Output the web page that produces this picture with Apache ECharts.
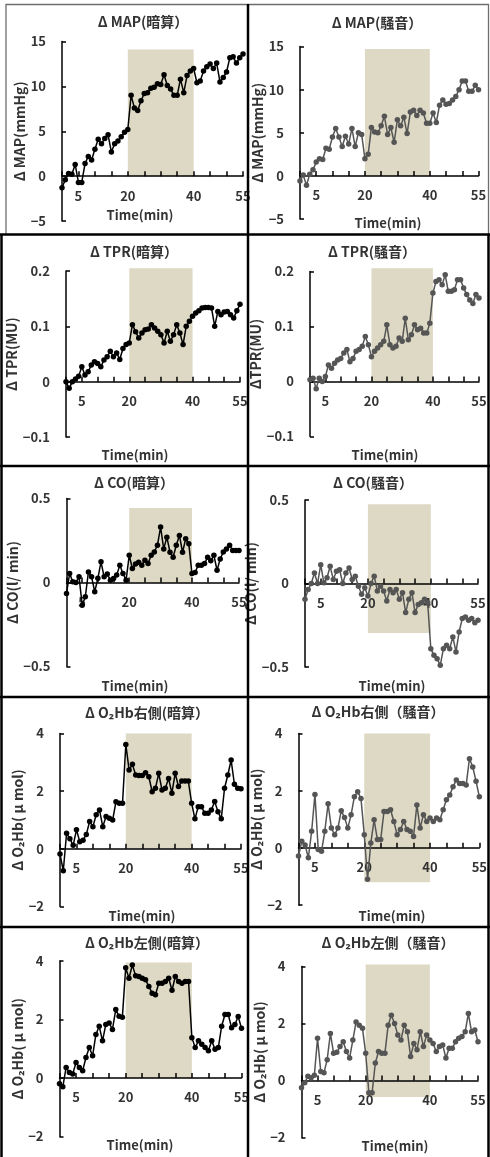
<!DOCTYPE html>
<html>
<head>
<meta charset="utf-8">
<script src="https://cdn.jsdelivr.net/npm/echarts@6/dist/echarts.min.js"></script>
<style>
  html, body { margin: 0; padding: 0; background: #fff; }
  #chart { width: 490px; height: 1157px; }
</style>
</head>
<body>
<div id="chart"></div>
<script>
// Time axis (min) and its labelled ticks
const minutes = [0,1,2,3,4,5,6,7,8,9,10,11,12,13,14,15,16,17,18,19,20,21,22,23,24,25,26,27,
  28,29,30,31,32,33,34,35,36,37,38,39,40,41,42,43,44,45,46,47,48,49,50,51,52,53,54,55];
const timeLabels = [5, 20, 40, 55];
const taskPeriod = [20, 40];

// Y tick values per measure
const mapTicks = [-5, 0, 5, 10, 15];
const tprTicks = [-0.1, 0, 0.1, 0.2];
const coTicks = [-0.5, 0, 0.5];
const o2hbTicks = [-2, 0, 2, 4];

// ΔMAP (mmHg)
const mapMental = [-1.3,-0.4,0.3,0.2,1.3,-0.7,-0.7,1.4,2.2,1.8,3.0,4.1,3.6,4.2,4.6,2.7,3.6,3.9,4.4,4.9,
  5.2,9.0,7.6,7.3,8.4,9.2,9.3,9.8,9.9,10.3,10.2,11.3,10.1,9.7,9.0,9.0,10.8,9.3,11.2,11.7,
  12.0,10.4,10.6,11.7,12.2,12.5,12.0,12.6,10.5,11.0,11.6,13.2,13.3,12.6,13.2,13.6];
const mapNoise = [-0.6,0.1,-1.1,0.2,0.7,1.6,2.0,1.9,3.2,3.1,4.5,5.5,4.5,3.4,4.6,3.7,5.5,3.4,5.0,4.8,
  2.0,2.5,5.6,5.1,5.0,5.8,6.9,4.8,5.6,3.9,6.5,5.8,6.8,4.9,7.4,7.6,7.0,7.6,7.3,6.1,
  6.1,7.3,6.2,8.2,8.8,8.3,8.4,8.8,9.2,10.0,11.0,11.0,9.8,9.8,10.5,10.0];

// ΔTPR (MU)
const tprMental = [0.0,-0.012,0.0,0.005,0.01,0.027,0.012,0.018,0.03,0.036,0.033,0.027,0.039,0.045,0.055,0.045,
  0.052,0.04,0.06,0.067,0.07,0.103,0.09,0.079,0.088,0.094,0.095,0.103,0.097,0.091,0.085,0.07,
  0.091,0.073,0.085,0.103,0.088,0.067,0.1,0.109,0.118,0.124,0.128,0.133,0.134,0.134,0.133,0.1,
  0.127,0.121,0.126,0.127,0.121,0.115,0.128,0.14];
const tprNoise = [0.003,0.006,-0.013,0.006,0.0,0.009,0.03,0.024,0.033,0.039,0.042,0.052,0.058,0.036,0.042,0.055,
  0.058,0.064,0.082,0.067,0.045,0.055,0.061,0.067,0.073,0.103,0.067,0.061,0.064,0.079,0.073,0.115,
  0.076,0.085,0.103,0.094,0.097,0.088,0.088,0.106,0.161,0.182,0.185,0.176,0.194,0.164,0.164,0.167,
  0.185,0.185,0.17,0.158,0.148,0.142,0.158,0.152];

// ΔCO (l/min)
const coMental = [-0.065,0.053,0.004,0.0,0.034,-0.135,-0.085,0.063,0.034,-0.055,0.025,0.123,0.034,0.05,0.014,0.024,
  0.044,0.103,0.054,0.014,0.162,0.083,0.11,0.12,0.103,0.133,0.113,0.162,0.182,0.222,0.33,0.2,
  0.27,0.18,0.15,0.222,0.28,0.18,0.26,0.23,0.053,0.06,0.103,0.103,0.113,0.15,0.13,0.162,
  0.073,0.14,0.182,0.2,0.222,0.19,0.19,0.19];
const coNoise = [-0.095,-0.036,0.0,0.063,0.0,0.113,0.004,0.034,0.103,0.024,0.073,0.083,0.0,0.063,0.093,0.024,
  0.044,-0.016,-0.065,-0.026,-0.075,0.0,0.044,-0.045,-0.016,-0.045,-0.105,-0.036,-0.055,-0.036,-0.095,-0.055,
  -0.174,-0.095,-0.055,-0.174,-0.125,-0.115,-0.095,-0.115,-0.39,-0.43,-0.45,-0.49,-0.39,-0.37,-0.39,-0.32,
  -0.41,-0.29,-0.21,-0.2,-0.22,-0.21,-0.235,-0.22];

// ΔO2Hb right side (μmol)
const o2hbRightMental = [-0.18,-0.76,0.54,0.35,0.12,0.66,0.25,0.3,0.5,0.95,0.77,1.18,1.35,0.77,1.12,1.06,
  1.0,1.63,1.58,1.58,3.62,2.73,2.93,2.56,2.54,2.54,2.64,2.5,1.98,2.1,2.62,2.04,
  2.1,2.44,1.93,2.62,2.16,2.35,2.35,2.35,1.58,1.04,1.46,1.46,1.23,1.23,1.35,1.64,
  1.29,1.04,2.1,2.56,3.08,2.24,2.1,2.08];
const o2hbRightNoise = [-0.29,0.23,0.1,-0.35,0.58,1.87,-0.06,-0.12,0.58,1.54,0.69,0.46,0.69,1.3,1.06,0.69,
  1.16,1.79,1.96,1.73,0.46,-1.1,0.17,0.98,0.29,0.29,1.27,1.27,1.33,0.92,0.46,0.64,
  0.92,0.64,0.58,0.4,1.5,0.69,1.16,0.92,1.04,0.92,1.04,0.98,1.33,1.68,1.85,2.14,
  2.37,2.25,2.25,2.2,3.12,2.83,2.33,1.79];

// ΔO2Hb left side (μmol)
const o2hbLeftMental = [-0.2,-0.3,0.36,0.19,0.14,0.53,0.36,0.25,0.7,1.04,0.76,1.49,1.77,1.27,1.83,1.88,
  1.66,2.34,2.11,2.08,3.77,3.41,3.86,3.5,3.47,3.41,3.36,3.13,2.9,2.85,3.24,3.24,
  3.3,3.41,3.0,3.47,3.3,3.24,3.3,3.3,1.38,1.04,1.27,1.15,1.04,0.93,1.27,0.98,
  1.04,1.77,2.17,2.17,1.72,1.83,2.1,1.7];
const o2hbLeftNoise = [-0.25,-0.08,0.15,0.1,0.18,1.48,0.32,0.27,0.73,1.65,0.96,0.99,1.19,1.36,1.02,0.79,
  1.42,2.05,1.94,1.83,0.96,-0.43,-0.43,0.61,1.02,0.96,0.96,1.94,2.29,2.0,1.6,1.42,
  1.94,1.71,0.84,1.3,1.08,1.71,1.19,1.6,1.42,1.3,1.02,1.19,1.25,0.79,1.13,1.13,
  1.36,1.48,1.54,1.71,2.35,1.71,1.77,1.36];

// Vertical extent of the shaded task band in each panel
const mapMentalBand = [0, 14.1];
const mapNoiseBand = [0, 14.7];
const tprMentalBand = [0, 0.205];
const tprNoiseBand = [0, 0.206];
const coMentalBand = [0, 0.443];
const coNoiseBand = [-0.296, 0.475];
const o2hbRightMentalBand = [0, 4.0];
const o2hbRightNoiseBand = [-1.2, 4.0];
const o2hbLeftMentalBand = [0, 3.95];
const o2hbLeftNoiseBand = [-0.58, 4.07];

const panels = [
  { title: 'Δ MAP(暗算）', yName: 'Δ MAP(mmHg)', values: mapMental, ticks: mapTicks, band: mapMentalBand },
  { title: 'Δ MAP(騒音）', yName: 'Δ MAP(mmHg)', values: mapNoise, ticks: mapTicks, band: mapNoiseBand },
  { title: 'Δ TPR(暗算）', yName: 'Δ TPR(MU)', values: tprMental, ticks: tprTicks, band: tprMentalBand },
  { title: 'Δ TPR(騒音）', yName: 'ΔTPR(MU)', values: tprNoise, ticks: tprTicks, band: tprNoiseBand },
  { title: 'Δ CO(暗算）', yName: 'Δ CO(l/ min)', values: coMental, ticks: coTicks, band: coMentalBand },
  { title: 'Δ CO(騒音）', yName: 'Δ CO(l/ min)', values: coNoise, ticks: coTicks, band: coNoiseBand },
  { title: 'Δ O₂Hb右側(暗算）', yName: 'Δ O₂Hb( μ mol)', values: o2hbRightMental, ticks: o2hbTicks, band: o2hbRightMentalBand },
  { title: 'Δ O₂Hb右側（騒音）', yName: 'Δ O₂Hb( μ mol)', values: o2hbRightNoise, ticks: o2hbTicks, band: o2hbRightNoiseBand },
  { title: 'Δ O₂Hb左側(暗算）', yName: 'Δ O₂Hb( μ mol)', values: o2hbLeftMental, ticks: o2hbTicks, band: o2hbLeftMentalBand },
  { title: 'Δ O₂Hb左側（騒音）', yName: 'Δ O₂Hb( μ mol)', values: o2hbLeftNoise, ticks: o2hbTicks, band: o2hbLeftNoiseBand }
];

// Plot-area placement of each panel on the page
const layout = [
  { left: 62,    top: 41.5,  width: 181,   height: 179.5, title: [143, 22],  time: [140, 215],  gap: 32 },
  { left: 300,   top: 46.5,  width: 178.5, height: 172.5, title: [377, 23],  time: [388, 223],  gap: 27 },
  { left: 66,    top: 271,   width: 174,   height: 166,   title: [134, 252], time: [135, 455],  gap: 37 },
  { left: 310,   top: 271.5, width: 169,   height: 165,   title: [372, 252], time: [385, 455],  gap: 39 },
  { left: 66.5,  top: 498.5, width: 172.5, height: 168,   title: [134, 483], time: [135, 686],  gap: 37 },
  { left: 305,   top: 500,   width: 173,   height: 167,   title: [373, 483], time: [392, 686],  gap: 34 },
  { left: 60,    top: 733.5, width: 181,   height: 173,   title: [147, 713], time: [142, 916],  gap: 27 },
  { left: 298.5, top: 733.5, width: 182.5, height: 171.5, title: [378, 712], time: [392, 916],  gap: 27 },
  { left: 59.5,  top: 961,   width: 182,   height: 175.5, title: [147, 943], time: [140, 1145], gap: 26 },
  { left: 301.5, top: 966.5, width: 176.5, height: 171,   title: [388, 943], time: [395, 1146], gap: 31 }
];

const FONT = '"Noto Sans CJK JP", "Noto Sans", sans-serif';
const TEXT = '#333';
const BAND = '#ddd9c4';

const fmtY = v => {
  const r = Math.round(v * 1000) / 1000;
  return r < 0 ? '−' + Math.abs(r) : String(r);
};

const grids = [], xAxes = [], yAxes = [], series = [], graphics = [];

panels.forEach((p, i) => {
  const L = layout[i];
  const noiseSide = i % 2 === 1;
  const lineColor = noiseSide ? '#555555' : '#000000';
  const ticks = p.ticks;
  const yMin = ticks[0], yMax = ticks[ticks.length - 1];
  // the time axis runs along y = 0
  const zeroShift = -L.height * (0 - yMin) / (yMax - yMin);

  grids.push({ left: L.left, top: L.top, width: L.width, height: L.height, containLabel: false });

  xAxes.push({
    type: 'value', gridIndex: i, position: 'bottom', offset: zeroShift,
    min: minutes[0], max: minutes[minutes.length - 1], interval: 5, z: 2,
    axisLine: { show: true, onZero: false, lineStyle: { color: '#000', width: 1.5 } },
    axisTick: { show: true, inside: true, length: 5, lineStyle: { color: '#000', width: 1.5 } },
    splitLine: { show: false },
    axisLabel: {
      margin: 13, fontSize: 13, fontWeight: 'bold', fontFamily: FONT, color: TEXT,
      showMaxLabel: true, showMinLabel: true,
      formatter: v => timeLabels.includes(v) ? String(v) : ''
    }
  });

  yAxes.push({
    type: 'value', gridIndex: i, min: yMin, max: yMax, interval: ticks[1] - ticks[0], z: 2,
    axisLine: { show: true, lineStyle: { color: '#000', width: 1.5 } },
    axisTick: { show: true, inside: true, length: 4, lineStyle: { color: '#000', width: 1.5 } },
    splitLine: { show: false },
    axisLabel: { margin: 16, fontSize: 13, fontWeight: 'bold', fontFamily: FONT, color: TEXT, formatter: fmtY },
    name: p.yName, nameLocation: 'middle', nameGap: L.gap, nameRotate: 90,
    nameTextStyle: { fontSize: 14, fontWeight: 'bold', fontFamily: FONT, color: TEXT }
  });

  // task period band (20–40 min)
  series.push({
    type: 'custom', xAxisIndex: i, yAxisIndex: i, z: 1, silent: true,
    data: [[taskPeriod[0], taskPeriod[1], p.band[0], p.band[1]]],
    encode: { x: [0, 1], y: [2, 3] },
    renderItem: (params, api) => {
      const a = api.coord([api.value(0), api.value(3)]);
      const b = api.coord([api.value(1), api.value(2)]);
      return { type: 'rect', shape: { x: a[0], y: a[1], width: b[0] - a[0], height: b[1] - a[1] },
               style: { fill: BAND } };
    }
  });

  series.push({
    type: 'line', xAxisIndex: i, yAxisIndex: i, z: 3,
    data: minutes.map((m, k) => [m, p.values[k]]),
    symbol: 'circle', symbolSize: 5.5, showAllSymbol: true,
    lineStyle: { color: lineColor, width: 1.5 },
    itemStyle: { color: lineColor },
    emphasis: { disabled: true }
  });

  graphics.push({
    type: 'text', x: L.title[0], y: L.title[1], z: 10,
    style: { text: p.title, align: 'center', verticalAlign: 'middle',
             font: 'bold 14px ' + FONT, fill: TEXT }
  });
  graphics.push({
    type: 'text', x: L.time[0], y: L.time[1], z: 10,
    style: { text: 'Time(min)', align: 'center', verticalAlign: 'middle',
             font: 'bold 13px ' + FONT, fill: TEXT }
  });
});

// panel frames
const frame = (pts, color, w) => ({
  type: 'polyline', z: 20, shape: { points: pts },
  style: { stroke: color, lineWidth: w, fill: null }
});
graphics.push(
  frame([[6, 234], [6, 4.5], [488.5, 4.5], [488.5, 234]], '#6e6e6e', 1.3),
  frame([[248, 4], [248, 1157]], '#000', 2.5),
  frame([[0, 234.5], [490, 234.5]], '#000', 2.5),
  frame([[0, 466], [490, 466]], '#000', 2.5),
  frame([[0, 697], [490, 697]], '#000', 2.5),
  frame([[0, 927], [490, 927]], '#000', 2.5),
  frame([[1.5, 234], [1.5, 1157]], '#000', 2.5),
  frame([[488.5, 234], [488.5, 1157]], '#000', 2.5)
);

const chart = echarts.init(document.getElementById('chart'), null, { renderer: 'canvas' });
chart.setOption({
  animation: false,
  backgroundColor: '#fff',
  grid: grids,
  xAxis: xAxes,
  yAxis: yAxes,
  series: series,
  graphic: graphics
});
</script>
</body>
</html>
